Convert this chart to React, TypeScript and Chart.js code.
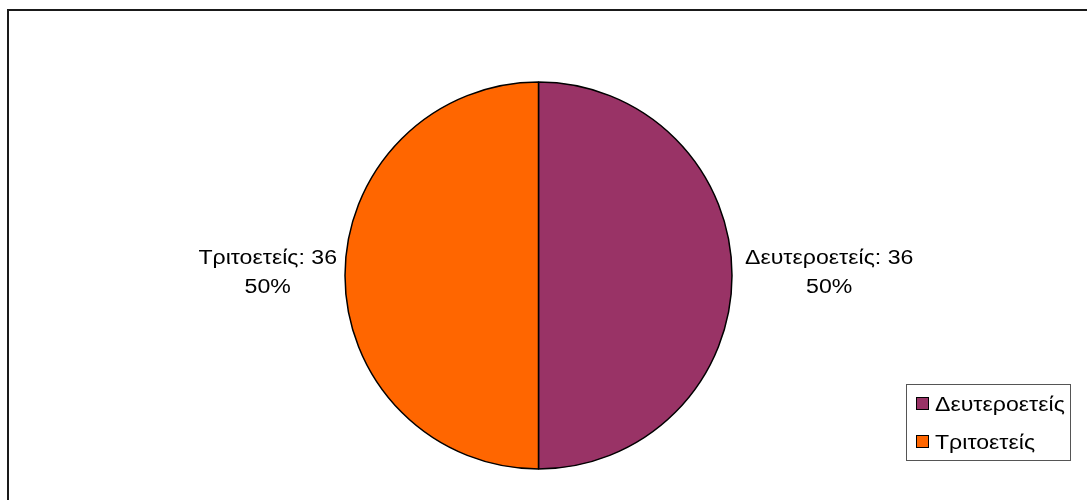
import React, { useEffect, useRef } from "react";
import { Chart, registerables } from "chart.js";

Chart.register(...registerables);

const categories = ["Δευτεροετείς", "Τριτοετείς"];
const values = [36, 36];
const sliceColors = ["#993366", "#FF6600"];

const FONT = '19.5px "Liberation Sans", Arial, sans-serif';
const SX = 1.185;

function drawStretched(ctx: any, text: string, x: number, y: number, align: "left" | "center") {
  ctx.save();
  ctx.translate(x, y);
  ctx.scale(SX, 1);
  ctx.textAlign = align;
  ctx.fillText(text, 0, 0);
  ctx.restore();
}

const labelPlugin = {
  id: "outsideLabels",
  afterDatasetsDraw(chart: any) {
    const ctx = chart.ctx;
    const meta = chart.getDatasetMeta(0);
    const total = values.reduce((a, b) => a + b, 0);
    ctx.save();
    ctx.font = FONT;
    ctx.fillStyle = "#000";
    ctx.textBaseline = "alphabetic";
    const lineH = 29;
    meta.data.forEach((arc: any, i: number) => {
      const p = arc.getProps(["x", "y", "startAngle", "endAngle", "outerRadius"], true);
      const mid = (p.startAngle + p.endAngle) / 2;
      const lines = [
        `${categories[i]}: ${values[i]}`,
        `${Math.round((values[i] / total) * 100)}%`,
      ];
      const w = Math.max(...lines.map((l) => ctx.measureText(l).width)) * SX;
      const c = Math.cos(mid);
      const gap = c >= 0 ? 13 : 8;
      const ax = p.x + c * (p.outerRadius + gap);
      const ay = p.y + Math.sin(mid) * (p.outerRadius + gap);
      const cx = c >= 0 ? ax + w / 2 : ax - w / 2;
      const firstBaseline = ay - 11.5;
      lines.forEach((l, j) => drawStretched(ctx, l, cx, firstBaseline + j * lineH, "center"));
    });
    ctx.restore();
  },
};

const legendPlugin = {
  id: "boxLegend",
  afterDraw(chart: any) {
    const ctx = chart.ctx;
    ctx.save();
    ctx.strokeStyle = "#555";
    ctx.lineWidth = 1;
    ctx.strokeRect(906.5, 384.5, 164, 76);
    ctx.font = FONT;
    ctx.textBaseline = "alphabetic";
    categories.forEach((cat, i) => {
      const my = 397 + i * 38;
      ctx.fillStyle = sliceColors[i];
      ctx.fillRect(916, my, 13, 13);
      ctx.strokeStyle = "#000";
      ctx.strokeRect(916.5, my + 0.5, 12, 12);
      ctx.fillStyle = "#000";
      drawStretched(ctx, cat, 935, my + 13.5, "left");
    });
    ctx.restore();
  },
};

export default function App() {
  const canvasRef = useRef<HTMLCanvasElement | null>(null);

  useEffect(() => {
    if (!canvasRef.current) return;
    const chart = new Chart(canvasRef.current, {
      type: "pie",
      data: {
        labels: categories,
        datasets: [
          {
            data: values,
            backgroundColor: sliceColors,
            borderColor: "#000",
            borderWidth: 1.5,
            radius: 193.5,
          } as any,
        ],
      },
      options: {
        responsive: false,
        animation: false,
        layout: { padding: { left: 0, right: 10, top: 51, bottom: 0 } },
        plugins: {
          legend: { display: false },
          tooltip: { enabled: false },
        },
      },
      plugins: [labelPlugin, legendPlugin],
    });
    return () => chart.destroy();
  }, []);

  return (
    <div
      style={{
        position: "absolute",
        left: 0,
        top: 0,
        width: 1087,
        height: 500,
        overflow: "hidden",
        background: "#fff",
      }}
    >
      <div
        style={{
          position: "absolute",
          left: 7,
          top: 9,
          width: 1200,
          height: 600,
          border: "2px solid #1a1a1a",
          boxSizing: "border-box",
        }}
      />
      <canvas
        ref={canvasRef}
        width={1087}
        height={500}
        style={{ position: "absolute", left: 0, top: 0, width: 1087, height: 500 }}
      />
    </div>
  );
}
